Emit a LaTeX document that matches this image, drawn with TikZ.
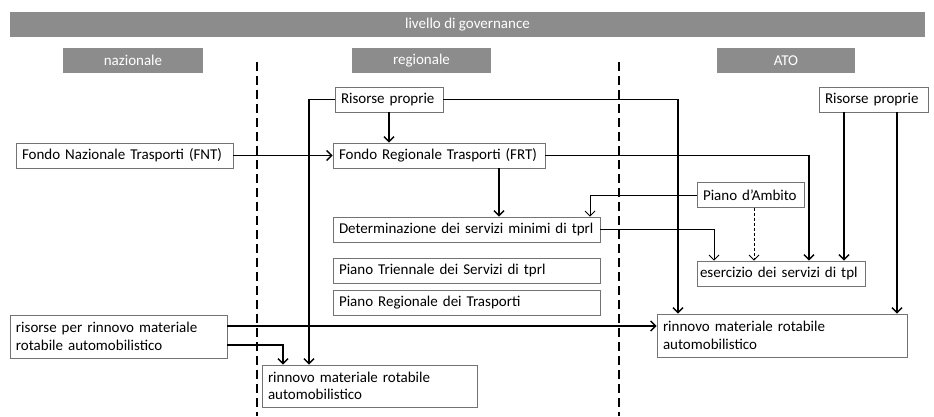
\documentclass[tikz,border=0pt]{standalone}
\usepackage{fontspec}
\setmainfont{Carlito}
\usetikzlibrary{arrows.meta}

\begin{document}
\begin{tikzpicture}[x=1pt, y=-1pt,
  box/.style={draw=black!55, line width=0.6pt, minimum height=25pt, inner xsep=6pt, inner ysep=2pt, align=left, text width=#1, font=\fontsize{15}{17.5}\selectfont},
  head/.style={fill=black!45, text=white, minimum width=#1, minimum height=25pt, inner sep=0pt, font=\fontsize{15}{17}\selectfont},
  arr/.style={line width=1.5pt, -{Straight Barb[length=5pt,width=10pt]}},
  thinarr/.style={line width=1pt, -{Straight Barb[length=5pt,width=10pt]}},
  sep/.style={line width=1.3pt, dash pattern=on 9pt off 5pt}]
\useasboundingbox (0,0) rectangle (934,416);

\node[head=915pt] (gov) at (467.5,24.5) {livello di governance};
\node[head=140pt] (naz) at (133,60.5) {nazionale};
\node[head=139pt] (reg) at (421.5,60.5) {regionale};
\node[head=138pt] (ato) at (786,60.5) {ATO};

\draw[sep] (257,62) -- (257,416);
\draw[sep] (619,62) -- (619,416);

\node[box=205pt] (fnt) at (124.5,155.5) {Fondo Nazionale Trasporti (FNT)};
\node[box=205pt, minimum height=43pt] (ris) at (118.5,336.5) {risorse per rinnovo materiale\\rotabile automobilistico};

\node[box=96pt] (rpreg) at (389,99.5) {Risorse proprie};
\node[box=200pt] (frt) at (439,155.5) {Fondo Regionale Trasporti (FRT)};
\node[box=255pt] (det) at (466.5,229.5) {Determinazione dei servizi minimi di tprl};
\node[box=255pt] (pts) at (466.5,270.5) {Piano Triennale dei Servizi di tprl};
\node[box=255pt] (prt) at (466.5,303) {Piano Regionale dei Trasporti};
\node[box=203pt, minimum height=42pt] (rinr) at (369.5,386) {rinnovo materiale rotabile\\automobilistico};

\node[box=97pt] (rpato) at (873.5,99.5) {Risorse proprie};
\node[box=95pt] (amb) at (750.5,195) {Piano d’Ambito};
\node[box=162pt, inner xsep=3pt] (ese) at (781,273.5) {esercizio dei servizi di tpl};
\node[box=238pt, minimum height=43pt] (rina) at (782,335.5) {rinnovo materiale rotabile\\automobilistico};

\coordinate (f1) at ([xshift=60pt]frt.south);
\coordinate (p1) at ([xshift=3.5pt]amb.south);
\coordinate (a1) at ([xshift=-29.5pt]rpato.south);
\coordinate (a2) at ([xshift=23.5pt]rpato.south);
\coordinate (r1) at ([yshift=10.5pt]ris.east);
\coordinate (r2) at ([yshift=-8.5pt]ris.east);

\draw[arr] (fnt) -- (frt);
\draw[arr] (rpreg) -- (rpreg |- frt.north);
\draw[arr] (rpreg.west) -| ([xshift=-60.5pt]rinr.north);
\draw[arr] (rpreg.east) -| ([xshift=-104pt]rina.north);
\draw[arr] (frt.east) -| ([xshift=28pt]ese.north);
\draw[arr] (f1) -- (f1 |- det.north);
\draw[thinarr] (amb.west) -| ([xshift=123.5pt]det.north);
\draw[thinarr] (det.east) -| ([xshift=-67pt]ese.north);
\draw[thinarr, densely dashed] (p1) -- (p1 |- ese.north);
\draw[arr] (a1) -- (a1 |- ese.north);
\draw[arr] (a2) -- (a2 |- rina.north);
\draw[arr] (r1) -- (r1 -| rina.west);
\draw[arr] (r2) -| ([xshift=-86.5pt]rinr.north);
\end{tikzpicture}
\end{document}
